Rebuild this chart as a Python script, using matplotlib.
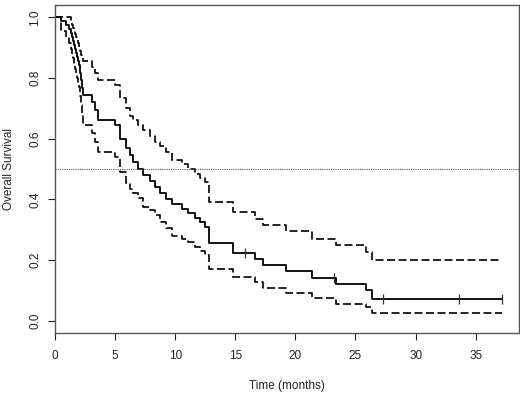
import matplotlib
matplotlib.use("Agg")
import matplotlib.pyplot as plt

# Kaplan-Meier estimate and 95% limits (months)
times = [0, 0.5, 0.92, 1.16, 1.33, 1.42, 1.50, 1.58, 1.66, 1.74, 1.82, 1.90, 1.98,
         2.06, 2.14, 2.22, 2.30, 3.05, 3.30, 3.60, 5.00, 5.40, 5.90, 6.20, 6.50,
         6.90, 7.35, 7.90, 8.30, 8.70, 9.20, 9.70, 10.6, 11.1, 11.65, 12.1, 12.5,
         12.85, 14.8, 16.6, 17.3, 19.2, 21.35, 23.4, 25.9, 26.4, 37.2]
surv = [1.0, 0.987, 0.974, 0.961, 0.948, 0.935, 0.922, 0.909, 0.896, 0.883, 0.870,
        0.857, 0.844, 0.818, 0.792, 0.766, 0.743, 0.720, 0.694, 0.663, 0.645, 0.600,
        0.570, 0.545, 0.523, 0.500, 0.480, 0.460, 0.440, 0.420, 0.400, 0.385, 0.370,
        0.355, 0.340, 0.325, 0.310, 0.256, 0.225, 0.205, 0.183, 0.163, 0.142, 0.120,
        0.100, 0.072, 0.072]
upper = [1.0, 1.0, 1.0, 1.0, 0.985, 0.975, 0.965, 0.955, 0.945, 0.935, 0.925, 0.915,
         0.905, 0.890, 0.875, 0.865, 0.855, 0.835, 0.815, 0.793, 0.776, 0.733, 0.700,
         0.675, 0.660, 0.645, 0.628, 0.610, 0.590, 0.575, 0.555, 0.531, 0.518, 0.500,
         0.485, 0.470, 0.457, 0.393, 0.357, 0.337, 0.315, 0.295, 0.270, 0.249, 0.226,
         0.201, 0.201]
lower = [1.0, 0.955, 0.935, 0.915, 0.895, 0.880, 0.865, 0.845, 0.830, 0.815, 0.800,
         0.785, 0.770, 0.740, 0.710, 0.680, 0.645, 0.620, 0.590, 0.555, 0.540, 0.490,
         0.455, 0.435, 0.420, 0.403, 0.375, 0.365, 0.348, 0.325, 0.305, 0.280, 0.270,
         0.259, 0.243, 0.229, 0.216, 0.172, 0.144, 0.127, 0.109, 0.091, 0.076, 0.056,
         0.045, 0.025, 0.025]

censor_times = [15.8, 23.2, 27.3, 33.6, 37.2]
censor_surv = [0.225, 0.142, 0.072, 0.072, 0.072]

xticks = [0, 5, 10, 15, 20, 25, 30, 35]
yticks = [0.0, 0.2, 0.4, 0.6, 0.8, 1.0]

plt.rcParams['font.family'] = ['Liberation Sans', 'DejaVu Sans']

fig = plt.figure(figsize=(5.2, 3.93), dpi=100)
ax = fig.add_axes([0.1058, 0.1527, 0.8922, 0.8343])

ax.step(times, surv, where='post', color='black', lw=1.3)
ax.step(times, upper, where='post', color='black', lw=1.2, dashes=(4.8, 2.1))
ax.step(times, lower, where='post', color='black', lw=1.2, dashes=(4.8, 2.1))
ax.plot(censor_times, censor_surv, ls='none', marker='|', ms=7, mew=0.9, color='#333333')
ax.axhline(0.5, color='#555555', lw=0.8, ls=(0, (1, 1)))

ax.set_xlim(0, 38.6)
ax.set_ylim(-0.04, 1.04)
ax.set_xticks(xticks)
ax.set_yticks(yticks)
ax.set_yticklabels(["%.1f" % v for v in yticks], rotation=90, va='center')
ax.tick_params(colors='#222222', labelsize=8.5, length=5, width=0.8, pad=7)
ax.tick_params(axis='y', pad=5)
for sp in ax.spines.values():
    sp.set_color('#555555')
    sp.set_linewidth(1.0)

ax.set_xlabel("Time (months)", fontsize=8.5, color='#222222', labelpad=13)
ax.set_ylabel("Overall Survival", fontsize=8.5, color='#222222', labelpad=10)

fig.savefig('out.png', dpi=100)
